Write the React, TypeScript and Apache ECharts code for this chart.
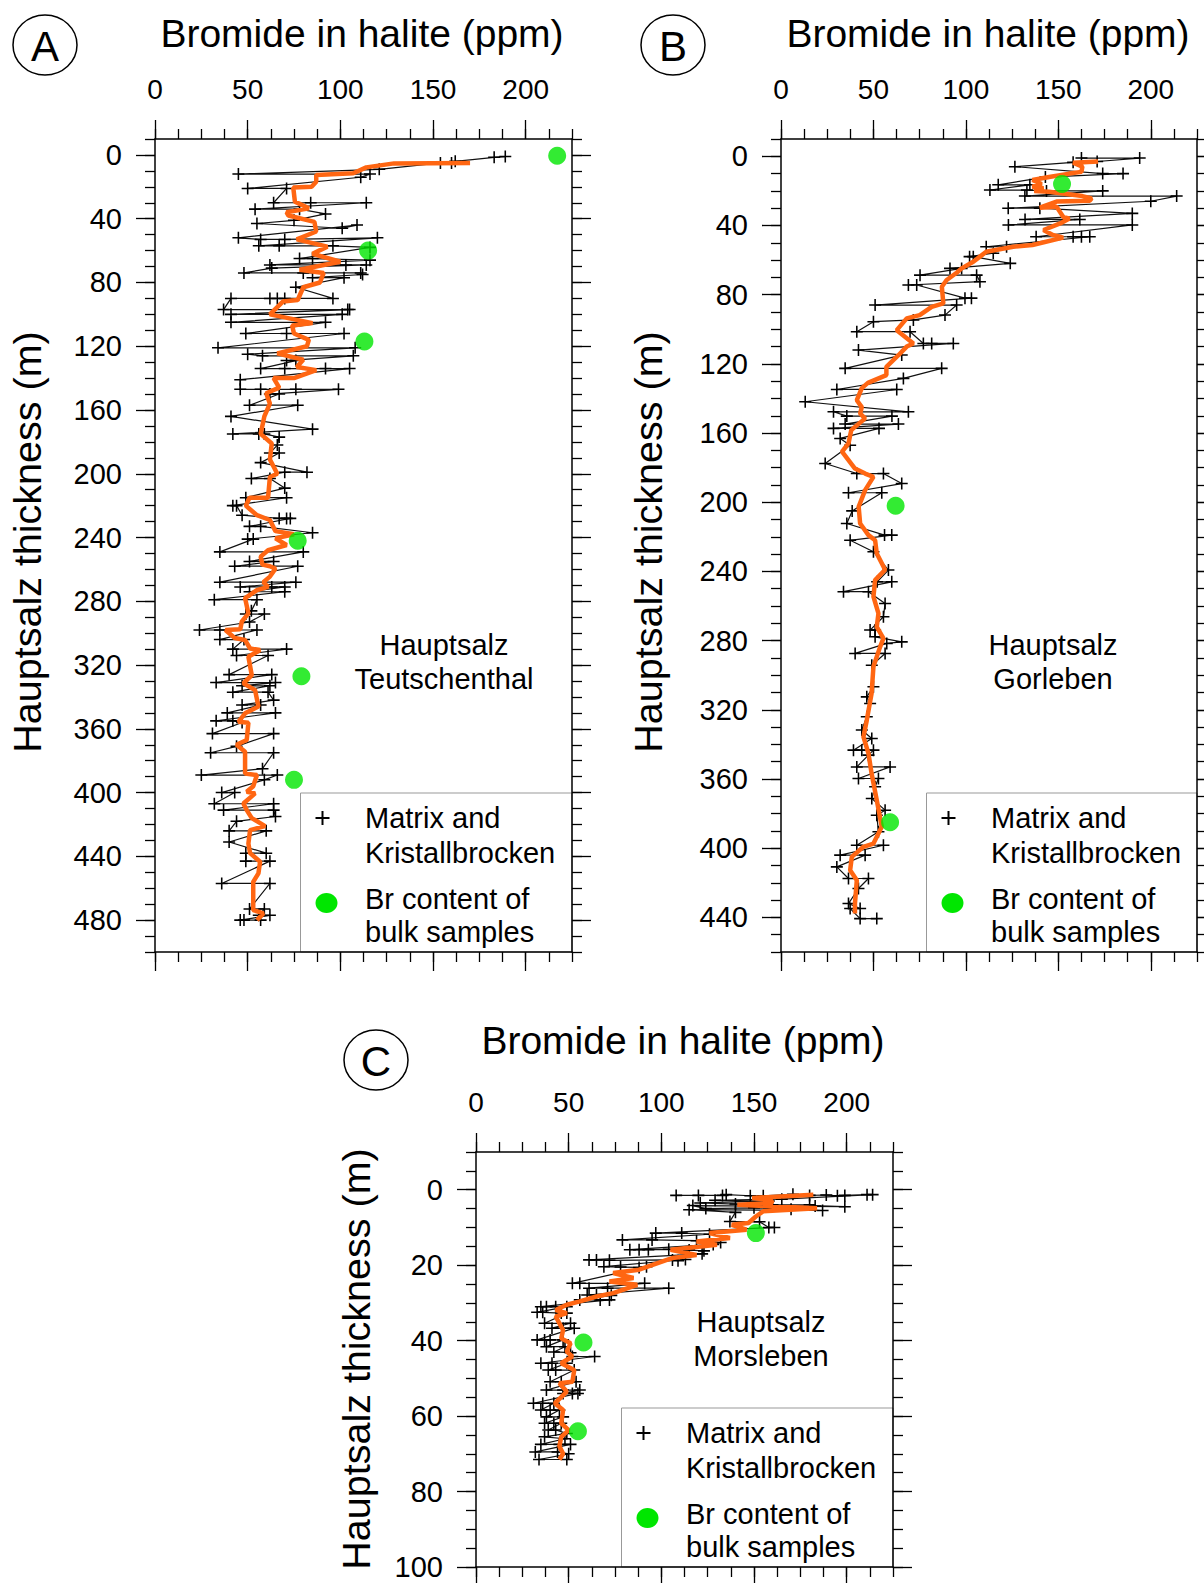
import React, { useEffect, useRef } from "react";
import * as echarts from "echarts";

const FONT = "'Liberation Sans', Arial, Helvetica, sans-serif";

const titleText = "Bromide in halite (ppm)";
const yName = "Hauptsalz thickness (m)";
const xTickLabels = [0, 50, 100, 150, 200];
const depthTicksA = [0, 40, 80, 120, 160, 200, 240, 280, 320, 360, 400, 440, 480];
const depthTicksB = [0, 40, 80, 120, 160, 200, 240, 280, 320, 360, 400, 440];
const depthTicksC = [0, 20, 40, 60, 80, 100];
const legendLines = ["Matrix and", "Kristallbrocken", "Br content of", "bulk samples"];

// [bromide ppm, depth m]
const matrixA = [
  [189, 1], [183, 1.5], [162, 4], [160, 5], [154, 5], [121, 9], [45, 12], [116, 12], [111, 14], [50, 21], [71, 21],
  [64, 30], [84, 30], [114, 30], [54, 34], [78, 34], [92, 37], [75, 41], [55, 43], [101, 46], [109, 44], [45, 52],
  [57, 53], [70, 53], [120, 52], [56, 57], [67, 57], [96, 57], [116, 58], [78, 65], [85, 65], [116, 66], [62, 69],
  [103, 69], [114, 69], [63, 71], [48, 74], [80, 74], [111, 74], [112, 75], [85, 77], [102, 77], [76, 83], [96, 90],
  [70, 90], [66, 90], [62, 90], [41, 90], [37, 97], [104, 97], [105, 97], [41, 100], [101, 100], [41, 105], [92, 105],
  [49, 112], [71, 112], [102, 112], [34, 121], [108, 121], [50, 125], [58, 126], [107, 126], [71, 129], [76, 129],
  [57, 134], [70, 134], [92, 134], [105, 134], [46, 141], [46, 147], [57, 147], [76, 147], [99, 147], [62, 150],
  [67, 150], [51, 157], [77, 157], [41, 164], [85, 172], [42, 175], [56, 175], [59, 175], [67, 177], [66, 182],
  [62, 187], [67, 187], [57, 193], [82, 199], [70, 199], [52, 203], [62, 203], [70, 209], [49, 215], [71, 215],
  [42, 220], [44, 220], [47, 226], [67, 228], [71, 228], [73, 228], [51, 233], [57, 233], [85, 237], [50, 241],
  [53, 241], [35, 249], [80, 249], [51, 255], [64, 255], [43, 258], [77, 258], [35, 268], [76, 268], [46, 271],
  [63, 271], [70, 271], [51, 274], [70, 274], [32, 279], [55, 279], [52, 286], [49, 288], [59, 288], [51, 293],
  [24, 298], [35, 298], [55, 298], [35, 304], [48, 304], [42, 310], [71, 310], [44, 314], [61, 314], [40, 326],
  [63, 326], [33, 331], [65, 331], [47, 333], [62, 333], [42, 337], [61, 337], [64, 342], [47, 345], [57, 345],
  [39, 350], [65, 350], [33, 355], [42, 355], [47, 356], [31, 363], [64, 363], [44, 371], [30, 375], [64, 375],
  [58, 385], [25, 389], [66, 389], [59, 392], [36, 400], [43, 400], [32, 407], [64, 407], [37, 411], [64, 411],
  [65, 415], [44, 418], [40, 424], [60, 424], [40, 431], [60, 438], [49, 438], [49, 443], [62, 443], [36, 457],
  [62, 457], [51, 473], [59, 473], [56, 477], [62, 477], [46, 480], [48, 480], [57, 480],
];
const trendA = [
  [170, 5], [129, 5.3], [114, 7.8], [107, 11.5], [87, 12.6], [87, 16.8], [84.5, 19.9], [74.6, 20.5], [75.5, 29.3],
  [83, 33.5], [71, 36], [72, 38], [86, 42], [87, 48], [76.5, 53], [93, 57.5], [85, 62], [100, 67], [78, 72], [91, 74],
  [89, 80], [80, 83], [77, 91], [69, 92], [62, 100], [85, 105.5], [74, 107], [75, 112], [83, 116], [82, 120], [66, 124.5],
  [80, 128.5], [76.5, 133], [87, 135], [75, 140], [64, 140], [67, 146], [60, 149.5], [62, 156], [59, 164], [57, 175],
  [63, 181], [62, 191], [66, 200], [62, 202], [61, 215], [51, 215], [49, 220], [55, 226], [62, 229], [65, 236],
  [75, 238], [65, 240.5], [71, 244.7], [61, 248], [57, 252], [58, 257], [62, 258], [65, 259.5], [62, 264.5],
  [58.5, 268], [61, 271], [55, 273], [48.6, 278], [50.4, 287.6], [46.8, 292.8], [46, 297.6], [38, 298], [43, 303],
  [48.6, 304.3], [51.3, 309.6], [56.7, 310.6], [50.4, 314.8], [52.2, 326.3], [47.7, 331.5], [54, 335.7], [55.8, 346],
  [48.6, 350.3], [45, 355.6], [50.4, 356.2], [49.5, 367], [44, 370], [48.6, 374.4], [48.6, 388], [55, 389], [53, 396],
  [49.5, 399.5], [54, 400.5], [47.7, 406.8], [49.5, 411], [52.2, 416], [59.4, 421], [51.3, 423.5], [50.4, 432],
  [51.3, 438], [56.7, 443.4], [55.8, 450.7], [53, 456], [53, 473.7], [58.5, 475.8], [55, 480],
];
const bulkA = [[217, 0.5], [115, 60], [113, 117], [77, 242], [79, 327], [75, 392]];

const matrixB = [
  [162.5, 1], [194, 1], [171, 3], [158, 3.5], [126.5, 6], [174, 10], [185, 10], [143, 12], [117.5, 16.5], [134.6, 16.5],
  [113, 19.5], [133, 19.5], [143.6, 20], [174, 20], [131.9, 23], [214, 23], [200, 26], [122.9, 30], [140, 30], [190, 33],
  [132, 36.5], [161.6, 36.5], [123, 39.7], [190, 39.7], [138, 46.5], [158, 46.5], [162.5, 46.5], [167, 46.5], [111, 52.3],
  [122, 52.3], [114.8, 56], [102, 58], [104, 58], [124, 61.9], [91.4, 64.8], [97.7, 64.8], [75.2, 68.7], [105.8, 68.7],
  [107.6, 72.5], [68.9, 74.4], [73.4, 74.4], [99.5, 82], [103, 82], [50.9, 86], [95, 86], [88.7, 91.8], [71.6, 94.6],
  [50, 95.6], [41, 101.4], [69.8, 101.4], [77, 108.2], [81.5, 108.2], [93.2, 108.2], [41.9, 112], [65.3, 114.9],
  [34.7, 122.6], [86.9, 122.6], [66.2, 128.4], [30.2, 134.8], [62.6, 134.8], [13.1, 141.9], [68.9, 147.7], [28.4, 147.7],
  [35.6, 150.2], [60, 150.2], [34.7, 154.8], [63.5, 154.8], [28.4, 157.3], [53, 157.3], [32, 163.1], [37.4, 167],
  [23.9, 177.6], [41, 183.4], [55.4, 183.4], [65.3, 189.2], [36.5, 194.5], [54.5, 194.5], [38.5, 205], [35.6, 212.3],
  [56, 219], [59.9, 219], [37.4, 222], [50, 228.6], [58.1, 239.2], [52, 246], [59.9, 246], [33.8, 251.7], [47.3, 251.7],
  [56.3, 258.5], [55.4, 266.2], [48.2, 273.9], [50.9, 273.9], [50.9, 277.8], [65.3, 280.7], [57.2, 281.6], [40.1, 287.4],
  [56.3, 287.4], [49.1, 294.2], [50, 306.7], [46.4, 312.5], [48.2, 316.3], [46.4, 324], [43.7, 331.7], [49.1, 336.6],
  [39.2, 343.3], [43.7, 343.3], [50, 343.3], [47.3, 346.2], [41, 353], [59, 353], [41.9, 359.7], [52.7, 359.7],
  [50.9, 364.5], [49.1, 371.3], [56.3, 378], [51.8, 380.9], [52.7, 390.5], [41, 398.3], [55.4, 398.3], [32, 404],
  [45.5, 404], [30.2, 410.8], [36.5, 417.5], [47.3, 417.5], [41.9, 423.3], [36.5, 432], [42.8, 434.9], [37.4, 434.9],
  [42.8, 440.7], [51.8, 440.7],
];
const trendB = [
  [171.5, 3], [158, 3.7], [163, 6], [162.5, 9], [156, 10], [145, 12], [136, 13.7], [141, 16], [136, 17.6], [142, 18.5],
  [137, 20], [145, 20.5], [163, 23], [168, 24.3], [167, 25.7], [149, 26.2], [140, 29.7], [149, 29.1], [152.6, 35],
  [156, 36], [151, 38.8], [142, 42.6], [147, 45.5], [152.6, 47], [136, 51.3], [125.6, 52.3], [111, 55.2], [107.6, 58],
  [104, 61], [97.7, 64.8], [95, 67.3], [89.6, 71.5], [87, 75.4], [87.8, 85], [81.5, 87], [75, 91.8], [68, 93.7],
  [62.6, 100.5], [71.6, 108.2], [68, 110], [63.5, 115], [57, 121.7], [57, 126.5], [47, 131], [43.7, 134], [41, 141],
  [43.7, 145], [42.8, 148.7], [45.5, 151.5], [38, 158.3], [36.5, 166], [33, 170.8], [40, 180.5], [45.5, 183.4],
  [50, 185.3], [45.5, 193], [42, 202.6], [42.8, 212.3], [47.3, 219], [50.9, 222], [51.8, 229.6], [56.3, 239],
  [50.9, 245], [50, 254.6], [52.7, 264.3], [51.8, 272], [55.4, 278.7], [53.6, 283.6], [50, 295], [49, 310.5],
  [46.4, 326], [44.6, 335.6], [47.3, 345.2], [49, 356.8], [51.8, 372.2], [54.5, 387.6], [50, 397.3], [44.6, 399.2],
  [38.3, 405], [37.4, 412.7], [41, 418.5], [40, 432], [40, 437.8],
];
const bulkB = [[152, 16], [62, 202], [59, 385]];

const matrixC = [
  [108, 1.5], [120, 1.5], [133, 1.5], [135, 1.3], [148, 1.6], [155, 1.6], [171, 1.2], [180, 1.5], [189, 1.4], [195, 1.6],
  [199, 1.5], [211, 1.3], [214, 1.3], [165, 2.5], [129, 2.8], [158, 3], [121, 3.5], [140, 3.8], [160, 4], [180, 4],
  [183, 4.3], [199, 4.5], [117, 4.2], [124, 5], [150, 4.8], [170, 5.2], [187, 5.5], [115, 5.3], [140, 6], [137, 8.4],
  [153, 8.5], [158, 10], [161, 10], [97, 11.5], [111, 11.5], [126, 11.8], [79, 13.3], [95, 13.3], [119, 13.5], [132, 14],
  [128, 14.5], [83, 15.9], [88, 15.9], [93, 15.9], [104, 15.8], [115, 16], [123, 16.2], [122, 17], [61, 18.6], [65, 18.6],
  [72, 18.7], [106, 18.6], [109, 18.8], [113, 18.5], [69, 20.4], [78, 20.5], [88, 20.6], [92, 20.4], [52, 24.8],
  [56, 24.8], [91, 24.8], [61, 26.1], [71, 26.1], [104, 26.1], [60, 27.9], [65, 27.9], [73, 28], [56, 29.2], [67, 29.2],
  [72, 29.2], [35, 31], [38, 31], [43, 31], [49, 31], [33, 32.5], [36, 32.5], [46, 32.7], [49, 32.7], [37, 35.4],
  [51, 35.4], [41, 36.7], [47, 36.7], [53, 36.7], [33, 39.8], [37, 39.8], [40, 39.8], [47, 39.8], [38, 41.6], [48, 41.6],
  [42, 43], [51, 43.2], [52, 44.2], [64, 44.2], [35, 46], [41, 46], [49, 46], [39, 47.8], [43, 47.8], [53, 47.8],
  [40, 50.9], [46, 50.9], [54, 50.9], [38, 53.1], [47, 53.1], [56, 53.1], [47, 54], [52, 54], [55, 54], [31, 56.6],
  [36, 56.6], [42, 56.6], [35, 58.4], [40, 58.4], [45, 58.4], [38, 60.2], [47, 60.2], [37, 61.9], [42, 61.9], [46, 61.9],
  [39, 63.7], [43, 63.7], [49, 64.6], [37, 65.5], [48, 66], [35, 67.5], [45, 67.5], [51, 67.5], [32, 69.5], [44, 69.5],
  [50, 70], [34, 71.5], [49, 71.5],
];
const trendC = [
  [182, 1.3], [149, 2.2], [159, 2.7], [160, 3.5], [141, 4], [184, 4.9], [155, 5.7], [151, 7.1], [147, 8.8], [138, 9.3],
  [146, 10.6], [126, 11.5], [137, 12.8], [119, 13.7], [130, 14.6], [105, 15.9], [119, 17.3], [106, 18.1], [103, 18.6],
  [88, 21.2], [74, 22.1], [85, 23.4], [72, 24.3], [87, 25.2], [74, 27.4], [65, 28.3], [56, 29.6], [49, 30.5], [43, 31.9],
  [49, 32.7], [43, 33.6], [47, 37.2], [46, 39.4], [51, 40.7], [49, 42.9], [52, 44.2], [46, 46], [53, 47.8], [52, 50.9],
  [45, 51.3], [49, 53.5], [42.5, 56.6], [47, 58.4], [46, 61.9], [50, 63.7], [46, 65.5], [45, 68], [47, 70], [45, 71.5],
];
const bulkC = [[151, 11.5], [58, 40.5], [55, 64]];

const panels = [
  {
    letter: "A", grid: { left: 155, top: 139, width: 417, height: 813 }, yMin: -10, yMax: 500, yMajor: depthTicksA, yStep: 10,
    matrix: matrixA, trend: trendA, bulk: bulkA, site: ["Hauptsalz", "Teutschenthal"],
    letterPos: [45, 45], titleX: 362, titleY: 33, nameX: 27, nameY: 542, site1: [289, 506],
  },
  {
    letter: "B", grid: { left: 781, top: 139, width: 416, height: 813 }, yMin: -10, yMax: 460, yMajor: depthTicksB, yStep: 10,
    matrix: matrixB, trend: trendB, bulk: bulkB, site: ["Hauptsalz", "Gorleben"],
    letterPos: [673, 45], titleX: 988, titleY: 33, nameX: 648, nameY: 542, site1: [272, 506],
  },
  {
    letter: "C", grid: { left: 476, top: 1152, width: 417, height: 415 }, yMin: -10, yMax: 100, yMajor: depthTicksC, yStep: 5,
    matrix: matrixC, trend: trendC, bulk: bulkC, site: ["Hauptsalz", "Morsleben"],
    letterPos: [376, 1060], titleX: 683, titleY: 1040, nameX: 356, nameY: 1359, site1: [285, 170],
  },
];

const CROSS = "path://M0,4.35H10V5.65H0Z M4.35,0H5.65V10H4.35Z";
const GREEN = "#00e600";
const ORANGE = "#ff6612";

function buildOption() {
  const option: any = { animation: false, grid: [], xAxis: [], yAxis: [], series: [], graphic: [] };
  const axisLine = { show: true, onZero: false, lineStyle: { color: "#000", width: 1.5 } };
  panels.forEach((p, i) => {
    option.grid.push({ ...p.grid, containLabel: false });
    const xb = option.xAxis.length;
    const yb = option.yAxis.length;
    const mkX = (pos: string, major: boolean) => {
      const ax: any = {
        type: "value", gridIndex: i, position: pos, min: 0, max: 225, interval: major ? 50 : 12.5,
        axisLine: major ? axisLine : { show: false, onZero: false },
        axisTick: { show: true, length: major ? 19 : 10, lineStyle: { color: "#000", width: 1.3 } },
        axisLabel: { show: false },
        splitLine: { show: false },
      };
      if (major) ax.axisTick.customValues = xTickLabels;
      if (major && pos === "top") {
        ax.axisLabel = { show: true, customValues: xTickLabels, margin: 36, fontSize: 28, color: "#000", fontFamily: FONT };
      }
      return ax;
    };
    option.xAxis.push(mkX("top", true), mkX("top", false), mkX("bottom", true), mkX("bottom", false));
    const mkY = (pos: string, major: boolean) => {
      const ax: any = {
        type: "value", gridIndex: i, position: pos, inverse: true, min: p.yMin, max: p.yMax, interval: p.yStep,
        axisLine: major ? axisLine : { show: false, onZero: false },
        axisTick: { show: true, length: major ? 19 : 10, lineStyle: { color: "#000", width: 1.3 } },
        axisLabel: { show: false },
        splitLine: { show: false },
      };
      if (major) ax.axisTick.customValues = p.yMajor;
      if (major && pos === "left") {
        ax.axisLabel = { show: true, customValues: p.yMajor, margin: 33, fontSize: 29, color: "#000", fontFamily: FONT };
      }
      return ax;
    };
    option.yAxis.push(mkY("left", true), mkY("left", false), mkY("right", true), mkY("right", false));

    option.series.push({
      type: "line", xAxisIndex: xb, yAxisIndex: yb, data: p.matrix, symbol: CROSS, symbolSize: 12,
      showSymbol: true, lineStyle: { color: "#111", width: 1.2 }, itemStyle: { color: "#000", borderWidth: 0 }, z: 2,
    });
    option.series.push({
      type: "line", xAxisIndex: xb, yAxisIndex: yb, data: p.trend, symbol: "none",
      lineStyle: { color: ORANGE, width: 4.5 }, z: 3,
    });
    option.series.push({
      type: "scatter", xAxisIndex: xb, yAxisIndex: yb, data: p.bulk, symbol: "circle", symbolSize: 18,
      itemStyle: { color: GREEN }, z: 4,
    });

    const g = p.grid;
    const right = g.left + g.width;
    const bottom = g.top + g.height;
    const font = { fontFamily: FONT, fill: "#000" };
    option.graphic.push({ type: "ellipse", shape: { cx: p.letterPos[0], cy: p.letterPos[1], rx: 32, ry: 30 }, style: { fill: "none", stroke: "#000", lineWidth: 1.5 } });
    option.graphic.push({ type: "text", x: p.letterPos[0], y: p.letterPos[1] + 1, style: { ...font, text: p.letter, fontSize: 42, align: "center", verticalAlign: "middle" } });
    option.graphic.push({ type: "text", x: p.titleX, y: p.titleY, style: { ...font, text: titleText, fontSize: 39, align: "center", verticalAlign: "middle" } });
    option.graphic.push({ type: "text", x: p.nameX, y: p.nameY, rotation: Math.PI / 2, style: { ...font, text: yName, fontSize: 39.5, align: "center", verticalAlign: "middle" } });
    option.graphic.push({ type: "text", x: g.left + p.site1[0], y: g.top + p.site1[1], style: { ...font, text: p.site[0], fontSize: 29, align: "center", verticalAlign: "middle" } });
    option.graphic.push({ type: "text", x: g.left + p.site1[0], y: g.top + p.site1[1] + 34, style: { ...font, text: p.site[1], fontSize: 29, align: "center", verticalAlign: "middle" } });
    const bx = g.left + 145.5;
    const by = bottom - 159;
    option.graphic.push({ type: "rect", shape: { x: bx, y: by, width: right - bx, height: bottom - by }, style: { fill: "none", stroke: "#999", lineWidth: 1 } });
    option.graphic.push({ type: "line", shape: { x1: bx + 15, y1: by + 25, x2: bx + 29, y2: by + 25 }, style: { stroke: "#000", lineWidth: 2 } });
    option.graphic.push({ type: "line", shape: { x1: bx + 22, y1: by + 18, x2: bx + 22, y2: by + 32 }, style: { stroke: "#000", lineWidth: 2 } });
    option.graphic.push({ type: "ellipse", shape: { cx: bx + 26, cy: by + 110, rx: 11, ry: 10 }, style: { fill: GREEN } });
    const ly = [25, 60, 106, 139];
    legendLines.forEach((t, k) => {
      option.graphic.push({ type: "text", x: bx + 64.5, y: by + ly[k], style: { ...font, text: t, fontSize: 29, align: "left", verticalAlign: "middle" } });
    });
  });
  return option;
}

export default function App() {
  const ref = useRef<HTMLDivElement>(null);
  useEffect(() => {
    if (!ref.current) return;
    const chart = echarts.init(ref.current, undefined, { renderer: "svg" });
    chart.setOption(buildOption());
    return () => chart.dispose();
  }, []);
  return (
    <div
      ref={ref}
      style={{ position: "absolute", left: 0, top: 0, width: 1204, height: 1583, background: "#fff" }}
    />
  );
}
